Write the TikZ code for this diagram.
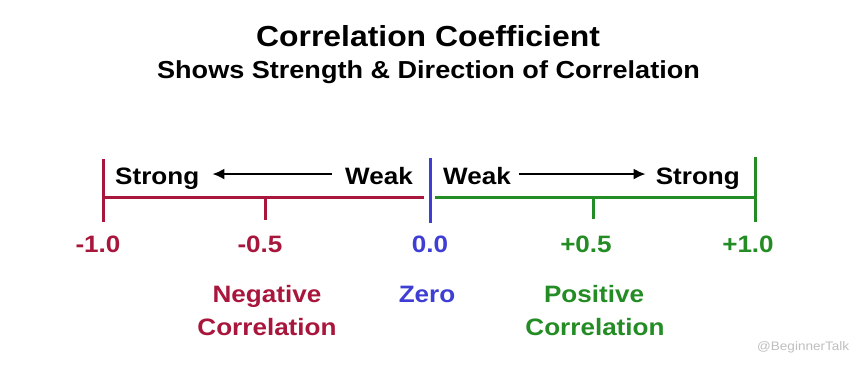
\documentclass[tikz,border=0pt]{standalone}
\usepackage{fontspec}
\setmainfont{Liberation Sans}[FakeStretch=1.1]
\usetikzlibrary{arrows.meta}
\definecolor{negred}{RGB}{168,22,60}
\definecolor{zeroblue}{RGB}{62,62,212}
\definecolor{posgreen}{RGB}{36,140,36}
\begin{document}
\begin{tikzpicture}[x=1pt,y=-1pt,
  lbl/.style={inner sep=0pt, anchor=base, font=\fontsize{23.7}{28}\selectfont\bfseries},
  axisline/.style={line width=3pt},
  arr/.style={line width=2pt, -{Latex[length=12pt,width=11pt]}}]
\useasboundingbox[fill=white] (0,0) rectangle (862,373);

% titles
\node[inner sep=0pt, anchor=base, font=\fontsize{29}{34}\selectfont\bfseries] (title) at (428,46) {Correlation Coefficient};
\node[inner sep=0pt, anchor=base, font=\fontsize{24.6}{30}\selectfont\bfseries] (sub) at (428.5,78) {Shows Strength \& Direction of Correlation};

% axis coordinates
\coordinate (nTop) at (103,159);
\coordinate (nBot) at (103,222);
\coordinate (nL) at (103,197);
\coordinate (nR) at (424,197);
\coordinate (nT1) at (265,197);
\coordinate (nT2) at (265,220);
\coordinate (zTop) at (430,158);
\coordinate (zBot) at (430,223);
\coordinate (pL) at (435,197);
\coordinate (pR) at (755,197);
\coordinate (pT1) at (593,197);
\coordinate (pT2) at (593,219);
\coordinate (pTop) at (755,157);
\coordinate (pBot) at (755,222);

\draw[negred, axisline] (nTop) -- (nBot);
\draw[negred, axisline] (nL) -- (nR);
\draw[negred, axisline] (nT1) -- (nT2);
\draw[zeroblue, axisline] (zTop) -- (zBot);
\draw[posgreen, axisline] (pL) -- (pR);
\draw[posgreen, axisline] (pT1) -- (pT2);
\draw[posgreen, axisline] (pTop) -- (pBot);

% strong / weak labels
\node[lbl, anchor=base west] (stL) at (115,184) {Strong};
\node[lbl, anchor=base east] (wkL) at (413,184) {Weak};
\node[lbl, anchor=base west] (wkR) at (443,184) {Weak};
\node[lbl, anchor=base east] (stR) at (740,184) {Strong};
\draw[arr, shorten <=13pt, shorten >=13pt] ([yshift=1.5pt]wkL.west) -- ([yshift=1.5pt]stL.east |- wkL.west);
\draw[arr, shorten <=8pt, shorten >=10pt] ([yshift=1.5pt]wkR.east) -- ([yshift=1.5pt]stR.west |- wkR.east);

% numbers
\node[lbl, text=negred] (m10) at (98,252) {-1.0};
\node[lbl, text=negred] (m05) at (260,252) {-0.5};
\node[lbl, text=zeroblue] (z00) at (430,252) {0.0};
\node[lbl, text=posgreen] (p05) at (586,252) {+0.5};
\node[lbl, text=posgreen] (p10) at (748,252) {+1.0};

% categories
\node[lbl, text=negred] (neg1) at (267,302) {Negative};
\node[lbl, text=negred] (neg2) at (267,335) {Correlation};
\node[lbl, text=zeroblue] (zero) at (427,302) {Zero};
\node[lbl, text=posgreen] (pos1) at (594,302) {Positive};
\node[lbl, text=posgreen] (pos2) at (595,335) {Correlation};

% watermark
\node[inner sep=0pt, anchor=base west, text=black!25, font=\fontsize{12.3}{14}\selectfont] (wm) at (757,350) {@BeginnerTalk};
\end{tikzpicture}
\end{document}
